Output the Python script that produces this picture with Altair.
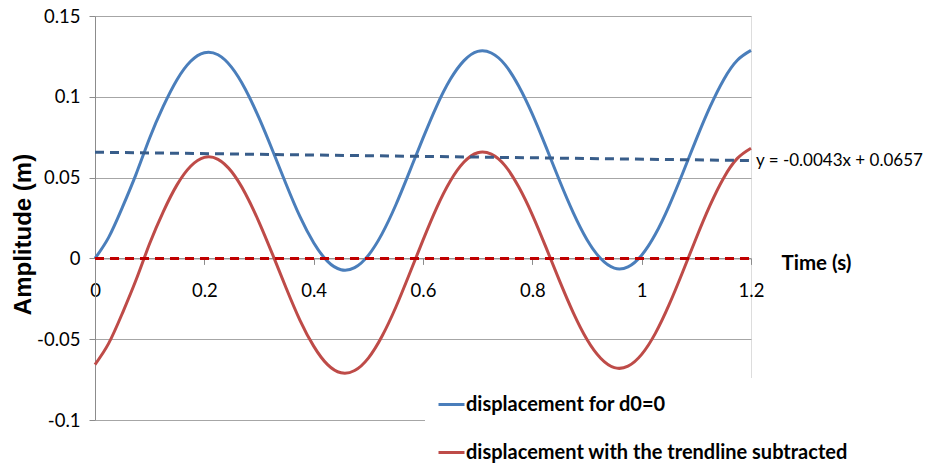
import altair as alt
import pandas as pd

# Sampled displacement (m) every 0.025 s
time_s = [0.0, 0.025, 0.05, 0.075, 0.1, 0.125, 0.15, 0.175, 0.2, 0.225,
          0.25, 0.275, 0.3, 0.325, 0.35, 0.375, 0.4, 0.425, 0.45, 0.475,
          0.5, 0.525, 0.55, 0.575, 0.6, 0.625, 0.65, 0.675, 0.7, 0.725,
          0.75, 0.775, 0.8, 0.825, 0.85, 0.875, 0.9, 0.925, 0.95, 0.975,
          1.0, 1.025, 1.05, 1.075, 1.1, 1.125, 1.15, 1.175, 1.2]

disp_d0 = [0.0, 0.0130, 0.0315, 0.0520, 0.0745, 0.0942, 0.1106, 0.1220, 0.1273, 0.1260,
           0.1182, 0.1047, 0.0869, 0.0666, 0.0456, 0.0258, 0.0097, -0.0017, -0.0070, -0.0057,
           0.0019, 0.0152, 0.0329, 0.0534, 0.0744, 0.0943, 0.1108, 0.1224, 0.1281, 0.1271,
           0.1199, 0.1067, 0.0893, 0.0690, 0.0479, 0.0282, 0.0116, -0.0001, -0.0060, -0.0052,
           0.0020, 0.0149, 0.0324, 0.0527, 0.0738, 0.0937, 0.1106, 0.1226, 0.1287]

disp_detrended = [-0.0657, -0.0526, -0.0340, -0.0134, 0.0092, 0.0290, 0.0455, 0.0570, 0.0625, 0.0613,
                  0.0536, 0.0402, 0.0225, 0.0023, -0.0186, -0.0383, -0.0543, -0.0656, -0.0708, -0.0694,
                  -0.0617, -0.0482, -0.0304, -0.0098, 0.0113, 0.0313, 0.0479, 0.0596, 0.0654, 0.0645,
                  0.0574, 0.0443, 0.0270, 0.0068, -0.0141, -0.0337, -0.0502, -0.0618, -0.0676, -0.0667,
                  -0.0594, -0.0464, -0.0288, -0.0084, 0.0128, 0.0328, 0.0498, 0.0619, 0.0682]

series_names = ["displacement for d0=0", "displacement with the trendline subtracted"]
series_colors = ["#4A7EBB", "#BE4B48"]

# Linear trendlines: y = -0.0043x + 0.0657 and the flat one of the detrended series
trend_x = [0.0, 1.2]
trend_d0 = [0.0657, 0.0657 - 0.0043 * 1.2]
trend_detrended = [0.0, 0.0]
trend_label = "y = -0.0043x + 0.0657"

FONT = "Lato, sans-serif"
FONT_V = "Liberation Sans, Arial, sans-serif"
HYPHEN_MINUS = "replace(datum.label, '\u2212', '-')"

df = pd.DataFrame({
    "t": time_s * 2,
    "d": disp_d0 + disp_detrended,
    "series": [series_names[0]] * len(time_s) + [series_names[1]] * len(time_s),
})
df_trend_blue = pd.DataFrame({"t": trend_x, "d": trend_d0})
df_trend_red = pd.DataFrame({"t": trend_x, "d": trend_detrended})
df_label = pd.DataFrame({"t": [trend_x[-1]], "d": [trend_d0[-1]], "label": [trend_label]})

x_scale = alt.Scale(domain=[0, 1.2], nice=False, zero=False)
y_scale = alt.Scale(domain=[-0.1, 0.15], nice=False, zero=False)

x_axis = alt.Axis(
    values=[0, 0.2, 0.4, 0.6, 0.8, 1.0, 1.2],
    format="~g",
    grid=False,
    offset=-161.6,
    domainColor="#8C8C8C",
    tickColor="#8C8C8C",
    tickSize=6,
    labelFlush=False,
    labelOverlap=False,
    labelPadding=17,
    labelFont=FONT,
    labelFontSize=18.5,
    labelColor="#000000",
    title="Time (s)",
    titleFont=FONT,
    titleFontSize=20.5,
    titleFontWeight="bold",
    titleColor="#000000",
    titleX=686,
    titleY=5,
    titleAlign="left",
    titleBaseline="middle",
    titleAnchor="start",
)

y_axis = alt.Axis(
    values=[-0.1, -0.05, 0, 0.05, 0.1, 0.15],
    format="~g",
    labelExpr=HYPHEN_MINUS,
    labelFlush=False,
    grid=True,
    gridColor="#A6A6A6",
    gridWidth=1,
    domainColor="#8C8C8C",
    tickColor="#8C8C8C",
    tickSize=6,
    labelPadding=9,
    labelFont=FONT,
    labelFontSize=18.5,
    labelColor="#000000",
    title="Amplitude (m)",
    titleFont=FONT_V,
    titleFontSize=24,
    titleFontWeight="bold",
    titleColor="#000000",
    titleX=-72,
    titleY=218,
    titleAlign="center",
    titleBaseline="middle",
)

lines = alt.Chart(df).mark_line(strokeWidth=3, interpolate="natural").encode(
    x=alt.X("t:Q", scale=x_scale, axis=x_axis),
    y=alt.Y("d:Q", scale=y_scale, axis=y_axis),
    color=alt.Color(
        "series:N",
        scale=alt.Scale(domain=series_names, range=series_colors),
        legend=alt.Legend(
            title=None,
            orient="none",
            legendX=330,
            legendY=362,
            symbolType="stroke",
            symbolStrokeWidth=3,
            symbolSize=676,
            labelFont=FONT,
            labelFontSize=20,
            labelFontWeight="bold",
            labelColor="#000000",
            labelOffset=0,
            rowPadding=23,
            padding=12,
            fillColor="#FFFFFF",
            labelLimit=600,
        ),
    ),
    order=alt.Order("t:Q"),
)

trend_blue = alt.Chart(df_trend_blue).mark_line(
    color="#385D8A", strokeWidth=3, strokeDash=[9, 6]
).encode(x=alt.X("t:Q", scale=x_scale), y=alt.Y("d:Q", scale=y_scale))

trend_red = alt.Chart(df_trend_red).mark_line(
    color="#C00000", strokeWidth=3, strokeDash=[9, 6]
).encode(x=alt.X("t:Q", scale=x_scale), y=alt.Y("d:Q", scale=y_scale))

label = alt.Chart(df_label).mark_text(
    align="left", baseline="middle", dx=5, dy=0,
    font=FONT, fontSize=17, color="#000000"
).encode(x=alt.X("t:Q", scale=x_scale), y=alt.Y("d:Q", scale=y_scale), text="label:N")

chart = alt.layer(lines, trend_blue, trend_red, label).properties(
    width=656,
    height=404,
    autosize=alt.AutoSizeParams(type="none"),
    padding={"left": 95, "top": 16, "right": 174, "bottom": 50},
).configure_view(stroke=None).configure(background="#FFFFFF")

chart.save("out.html", embed_options={"renderer": "svg", "actions": False})
